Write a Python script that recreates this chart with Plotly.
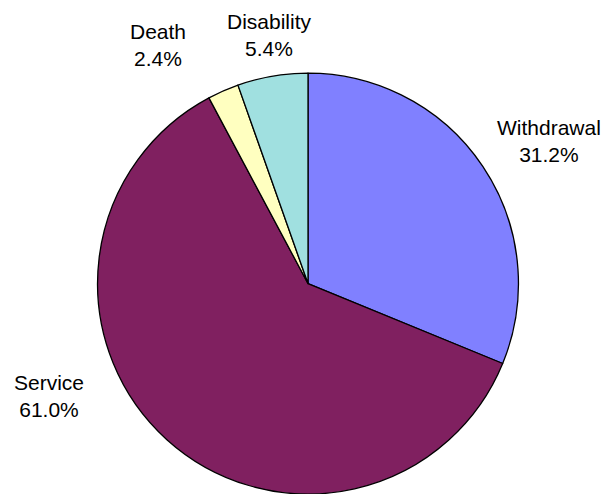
import plotly.graph_objects as go

categories = ["Withdrawal", "Service", "Death", "Disability"]
values = [31.2, 61.0, 2.4, 5.4]
colors = ["#8080FF", "#802060", "#FFFFC0", "#A0E0E0"]

# label positions (paper coords) for outside labels
label_x = [0.907, 0.081, 0.261, 0.446]
label_y = [0.715, 0.199, 0.909, 0.929]

fig = go.Figure()
fig.add_trace(go.Pie(
    labels=categories,
    values=values,
    sort=False,
    direction="clockwise",
    rotation=0,
    marker=dict(colors=colors, line=dict(color="black", width=1.3)),
    textinfo="none",
    hoverinfo="label+percent",
    domain=dict(x=[0.1603, 0.8579], y=[0.0, 0.852]),
    showlegend=False,
))

total = sum(values)
for c, v, x, y in zip(categories, values, label_x, label_y):
    fig.add_annotation(
        x=x, y=y, xref="paper", yref="paper",
        text=f"{c}<br>{v / total * 100:.1f}%",
        showarrow=False, xanchor="center", yanchor="middle",
        font=dict(family="Liberation Sans, Arial", size=21, color="black"),
    )

fig.update_layout(
    width=605, height=494,
    margin=dict(l=0, r=0, t=0, b=0),
    paper_bgcolor="white", plot_bgcolor="white",
)
fig.write_html("out.html")
